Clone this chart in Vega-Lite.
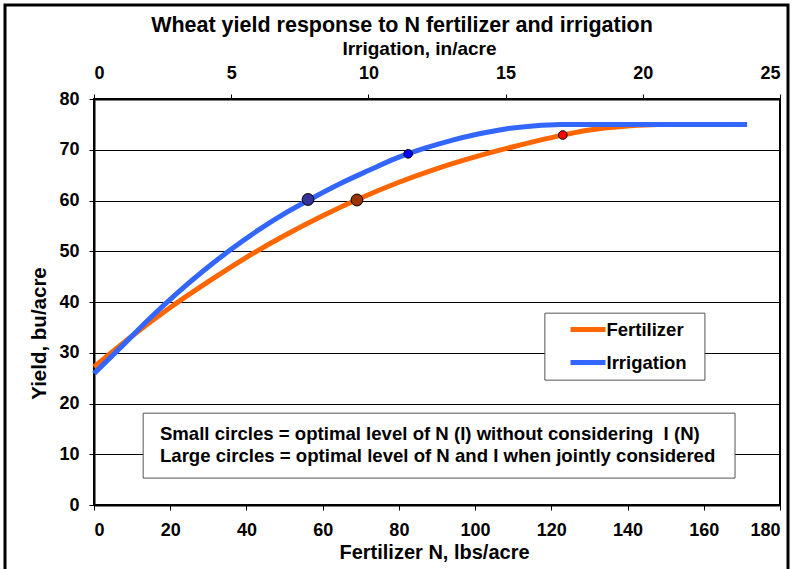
{
  "$schema": "https://vega.github.io/schema/vega-lite/v6.json",
  "width": 686,
  "height": 406,
  "autosize": {"type": "none"},
  "padding": {"left": 94, "top": 99, "right": 13, "bottom": 64},
  "background": "white",
  "title": {
    "text": "Wheat yield response to N fertilizer and irrigation",
    "font": "Liberation Sans", "fontSize": 21.5, "fontWeight": "bold", "color": "black",
    "anchor": "middle", "dx": -35, "offset": -33
  },
  "datasets": {
    "curves": [
      {"series": "Fertilizer", "amount": 0, "yield": 27.2},
      {"series": "Fertilizer", "amount": 10, "yield": 33.3},
      {"series": "Fertilizer", "amount": 20, "yield": 38.9},
      {"series": "Fertilizer", "amount": 30, "yield": 44.0},
      {"series": "Fertilizer", "amount": 40, "yield": 48.8},
      {"series": "Fertilizer", "amount": 50, "yield": 53.1},
      {"series": "Fertilizer", "amount": 60, "yield": 57.0},
      {"series": "Fertilizer", "amount": 70, "yield": 60.5},
      {"series": "Fertilizer", "amount": 80, "yield": 63.6},
      {"series": "Fertilizer", "amount": 90, "yield": 66.3},
      {"series": "Fertilizer", "amount": 100, "yield": 68.6},
      {"series": "Fertilizer", "amount": 110, "yield": 70.6},
      {"series": "Fertilizer", "amount": 120, "yield": 72.4},
      {"series": "Fertilizer", "amount": 130, "yield": 73.9},
      {"series": "Fertilizer", "amount": 140, "yield": 74.7},
      {"series": "Fertilizer", "amount": 148, "yield": 75.0},
      {"series": "Fertilizer", "amount": 156, "yield": 75.0},
      {"series": "Irrigation", "amount": 0, "yield": 25.9},
      {"series": "Irrigation", "amount": 1, "yield": 31.2},
      {"series": "Irrigation", "amount": 2, "yield": 36.6},
      {"series": "Irrigation", "amount": 3, "yield": 41.6},
      {"series": "Irrigation", "amount": 4, "yield": 46.2},
      {"series": "Irrigation", "amount": 5, "yield": 50.4},
      {"series": "Irrigation", "amount": 6, "yield": 54.2},
      {"series": "Irrigation", "amount": 7, "yield": 57.6},
      {"series": "Irrigation", "amount": 8, "yield": 60.6},
      {"series": "Irrigation", "amount": 9, "yield": 63.4},
      {"series": "Irrigation", "amount": 10, "yield": 65.9},
      {"series": "Irrigation", "amount": 11, "yield": 68.3},
      {"series": "Irrigation", "amount": 12, "yield": 70.2},
      {"series": "Irrigation", "amount": 13, "yield": 71.8},
      {"series": "Irrigation", "amount": 14, "yield": 73.1},
      {"series": "Irrigation", "amount": 15, "yield": 74.1},
      {"series": "Irrigation", "amount": 16, "yield": 74.7},
      {"series": "Irrigation", "amount": 17, "yield": 75.0},
      {"series": "Irrigation", "amount": 23.8, "yield": 75.0}
    ],
    "optima": [
      {"series": "Fertilizer", "kind": "Large", "amount": 69, "yield": 60.1},
      {"series": "Fertilizer", "kind": "Small", "amount": 123, "yield": 72.9},
      {"series": "Irrigation", "kind": "Large", "amount": 7.8, "yield": 60.2},
      {"series": "Irrigation", "kind": "Small", "amount": 11.45, "yield": 69.2}
    ],
    "note": [
      {"text": "Small circles = optimal level of N (I) without considering \u00a0I (N)\nLarge circles = optimal level of N and I when jointly considered"}
    ]
  },
  "layer": [
    {
      "layer": [
        {
          "data": {"name": "note"},
          "mark": {"type": "rect", "fill": "white", "fillOpacity": 0, "stroke": "black", "strokeWidth": 3},
          "encoding": {
            "x": {"datum": -23.35, "type": "quantitative", "scale": {"domain": [0, 180], "nice": false}},
            "x2": {"datum": 182.1},
            "y": {"datum": 98.5, "type": "quantitative", "scale": {"domain": [0, 80], "nice": false}},
            "y2": {"datum": -20}
          }
        },
        {
          "data": {"name": "note"},
          "mark": {"type": "rect", "fill": "white", "stroke": "#555555", "strokeWidth": 1},
          "encoding": {
            "x": {"datum": 12.9, "type": "quantitative", "scale": {"domain": [0, 180], "nice": false}},
            "x2": {"datum": 168.2},
            "y": {"datum": 18.1, "type": "quantitative", "scale": {"domain": [0, 80], "nice": false}},
            "y2": {"datum": 5.3}
          }
        },
        {
          "data": {"name": "note"},
          "mark": {"type": "rect", "fill": "white", "stroke": "#555555", "strokeWidth": 1},
          "encoding": {
            "x": {"datum": 118.3, "type": "quantitative", "scale": {"domain": [0, 180], "nice": false}},
            "x2": {"datum": 160.3},
            "y": {"datum": 37.8, "type": "quantitative", "scale": {"domain": [0, 80], "nice": false}},
            "y2": {"datum": 24.6}
          }
        },
        {
          "data": {"name": "note"},
          "mark": {"type": "text", "align": "left", "baseline": "middle", "lineBreak": "\n", "lineHeight": 22,
                   "font": "Liberation Sans", "fontSize": 18.6, "fontWeight": "bold", "color": "black"},
          "encoding": {
            "x": {"datum": 17.3, "type": "quantitative", "scale": {"domain": [0, 180], "nice": false}},
            "y": {"datum": 14.0, "type": "quantitative", "scale": {"domain": [0, 80], "nice": false}},
            "text": {"field": "text"}
          }
        },
        {
          "data": {"name": "curves"},
          "transform": [{"filter": "datum.series === 'Fertilizer'"}],
          "mark": {"type": "line", "strokeWidth": 5, "interpolate": "monotone"},
          "encoding": {
            "x": {
              "field": "amount", "type": "quantitative",
              "scale": {"domain": [0, 180], "nice": false},
              "axis": {
                "orient": "bottom", "title": "Fertilizer N, lbs/acre",
                "values": [0, 20, 40, 60, 80, 100, 120, 140, 160, 180],
                "labelBaseline": "middle", "labelPadding": 20,
                "titleX": 340, "titleY": 47, "titleBaseline": "middle", "titleFontSize": 20
              }
            },
            "y": {
              "field": "yield", "type": "quantitative",
              "scale": {"domain": [0, 80], "nice": false},
              "axis": {
                "title": "Yield, bu/acre", "values": [0, 10, 20, 30, 40, 50, 60, 70, 80],
                "grid": true, "labelPadding": 10, "titleX": -55, "titleY": 234, "titleBaseline": "middle", "titleFontSize": 20.5
              }
            },
            "color": {
              "field": "series", "type": "nominal",
              "scale": {"domain": ["Fertilizer", "Irrigation"], "range": ["#FF6600", "#3366FF"]},
              "legend": {"orient": "none", "legendX": 470, "legendY": 218}
            }
          }
        },
        {
          "data": {"name": "optima"},
          "transform": [{"filter": "datum.series === 'Fertilizer' && datum.kind === 'Large'"}],
          "mark": {"type": "circle", "size": 140, "fill": "#993300", "stroke": "black", "strokeWidth": 1, "opacity": 1},
          "encoding": {
            "x": {"field": "amount", "type": "quantitative", "scale": {"domain": [0, 180], "nice": false}},
            "y": {"field": "yield", "type": "quantitative", "scale": {"domain": [0, 80], "nice": false}}
          }
        },
        {
          "data": {"name": "optima"},
          "transform": [{"filter": "datum.series === 'Fertilizer' && datum.kind === 'Small'"}],
          "mark": {"type": "circle", "size": 75, "fill": "#FF0000", "stroke": "black", "strokeWidth": 1, "opacity": 1},
          "encoding": {
            "x": {"field": "amount", "type": "quantitative", "scale": {"domain": [0, 180], "nice": false}},
            "y": {"field": "yield", "type": "quantitative", "scale": {"domain": [0, 80], "nice": false}}
          }
        }
      ]
    },
    {
      "layer": [
        {
          "data": {"name": "curves"},
          "transform": [{"filter": "datum.series === 'Irrigation'"}],
          "mark": {"type": "line", "strokeWidth": 5, "interpolate": "monotone"},
          "encoding": {
            "x": {
              "field": "amount", "type": "quantitative",
              "scale": {"domain": [0, 25], "nice": false},
              "axis": {
                "orient": "top", "title": "Irrigation, in/acre",
                "values": [0, 5, 10, 15, 20, 25],
                "labelBaseline": "middle", "labelPadding": 21,
                "titleX": 325, "titleY": -51, "titleBaseline": "middle"
              }
            },
            "y": {"field": "yield", "type": "quantitative", "scale": {"domain": [0, 80], "nice": false}},
            "color": {
              "field": "series", "type": "nominal",
              "scale": {"domain": ["Fertilizer", "Irrigation"], "range": ["#FF6600", "#3366FF"]},
              "legend": {"orient": "none", "legendX": 470, "legendY": 218}
            }
          }
        },
        {
          "data": {"name": "optima"},
          "transform": [{"filter": "datum.series === 'Irrigation' && datum.kind === 'Large'"}],
          "mark": {"type": "circle", "size": 140, "fill": "#333399", "stroke": "black", "strokeWidth": 1, "opacity": 1},
          "encoding": {
            "x": {"field": "amount", "type": "quantitative", "scale": {"domain": [0, 25], "nice": false}},
            "y": {"field": "yield", "type": "quantitative", "scale": {"domain": [0, 80], "nice": false}}
          }
        },
        {
          "data": {"name": "optima"},
          "transform": [{"filter": "datum.series === 'Irrigation' && datum.kind === 'Small'"}],
          "mark": {"type": "circle", "size": 75, "fill": "#0000FF", "stroke": "black", "strokeWidth": 1, "opacity": 1},
          "encoding": {
            "x": {"field": "amount", "type": "quantitative", "scale": {"domain": [0, 25], "nice": false}},
            "y": {"field": "yield", "type": "quantitative", "scale": {"domain": [0, 80], "nice": false}}
          }
        }
      ]
    }
  ],
  "resolve": {"scale": {"x": "independent"}, "axis": {"x": "independent"}},
  "config": {
    "font": "Liberation Sans",
    "view": {"stroke": "black", "strokeWidth": 2},
    "axis": {
      "labelFont": "Liberation Sans", "labelFontWeight": "bold", "labelFontSize": 18, "labelColor": "black",
      "titleFont": "Liberation Sans", "titleFontWeight": "bold", "titleFontSize": 19, "titleColor": "black",
      "domainColor": "black", "domainWidth": 2, "tickColor": "black", "tickWidth": 1, "tickSize": 5,
      "grid": false
    },
    "axisY": {"grid": true, "gridColor": "black", "gridWidth": 1, "gridOpacity": 1},
    "legend": {
      "title": null, "padding": 0,
      "labelFont": "Liberation Sans", "labelFontSize": 18.5, "labelFontWeight": "bold", "labelColor": "black",
      "symbolType": "M-1.75,0H1.75", "symbolStrokeWidth": 5, "symbolSize": 400,
      "symbolOffset": 11.5, "labelOffset": 6, "rowPadding": 10
    }
  }
}
